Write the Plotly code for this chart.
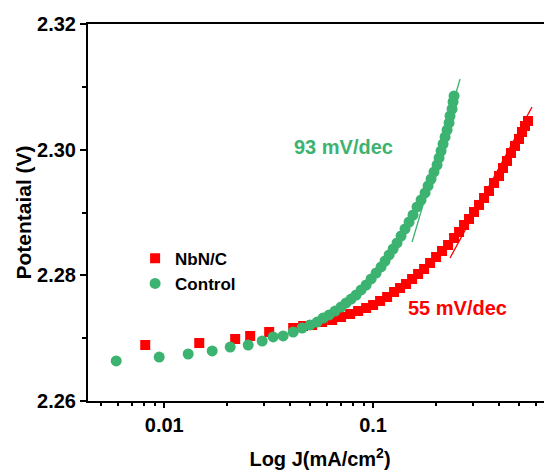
import plotly.graph_objects as go

# NbN/C (red squares)  J in mA/cm2, potential in V
nbn_j = [0.00811, 0.01471, 0.02186, 0.02579, 0.03180, 0.04143, 0.04625, 0.05105,
         0.05702, 0.06367, 0.07027, 0.07762, 0.08479, 0.09259, 0.1000, 0.1080,
         0.1167, 0.1260, 0.1346, 0.1438, 0.1537, 0.1642, 0.1754, 0.1874, 0.2002,
         0.2138, 0.2285, 0.2441, 0.2579, 0.2725, 0.2879, 0.3042, 0.3215, 0.3397,
         0.3589, 0.3793, 0.4008, 0.4188, 0.4376, 0.4573, 0.4779, 0.4995, 0.5162,
         0.5336, 0.5515]
nbn_v = [2.26891, 2.26923, 2.26987, 2.27035, 2.27098, 2.27162, 2.27194, 2.27210,
         2.27257, 2.27289, 2.27337, 2.27385, 2.27432, 2.27480, 2.27528, 2.27592,
         2.27655, 2.27735, 2.27798, 2.27862, 2.27942, 2.28021, 2.28101, 2.28196,
         2.28292, 2.28387, 2.28483, 2.28594, 2.28690, 2.28801, 2.28897, 2.29008,
         2.29120, 2.29231, 2.29342, 2.29470, 2.29581, 2.29708, 2.29820, 2.29947,
         2.30059, 2.30170, 2.30281, 2.30377, 2.30456]

# Control (green circles)
ctl_j = [0.00589, 0.00946, 0.01302, 0.01697, 0.02069, 0.02523, 0.02944, 0.03323,
         0.03710, 0.04143, 0.04574, 0.04995, 0.05397, 0.05765, 0.06158, 0.06578,
         0.07027, 0.07425, 0.07846, 0.08292, 0.08762, 0.09259, 0.09782, 0.1034,
         0.1092, 0.1141, 0.1193, 0.1247, 0.1302, 0.1361, 0.1422, 0.1487, 0.1553,
         0.1623, 0.1697, 0.1773, 0.1833, 0.1895, 0.1957, 0.2024, 0.2069, 0.2115,
         0.2163, 0.2211, 0.2260, 0.2310, 0.2335, 0.2388, 0.2414, 0.2441]
ctl_v = [2.26637, 2.26700, 2.26748, 2.26796, 2.26859, 2.26891, 2.26955, 2.27019,
         2.27035, 2.27098, 2.27162, 2.27210, 2.27257, 2.27321, 2.27369, 2.27432,
         2.27496, 2.27560, 2.27623, 2.27687, 2.27767, 2.27846, 2.27942, 2.28037,
         2.28133, 2.28228, 2.28324, 2.28419, 2.28515, 2.28626, 2.28738, 2.28849,
         2.28960, 2.29088, 2.29199, 2.29311, 2.29422, 2.29533, 2.29645, 2.29756,
         2.29868, 2.29979, 2.30090, 2.30202, 2.30313, 2.30425, 2.30536, 2.30647,
         2.30759, 2.30854]

# Tafel fit lines (end points)
fit_ctl_j = [0.1537, 0.2608]
fit_ctl_v = [2.28531, 2.31125]
fit_nbn_j = [0.2335, 0.5765]
fit_nbn_v = [2.28276, 2.30679]

RED = "#ff0000"
GREEN = "#3cb371"
FONT = "Liberation Sans, Arial, sans-serif"

fig = go.Figure()
fig.add_trace(go.Scatter(x=nbn_j, y=nbn_v, mode="markers", name="NbN/C",
                         marker=dict(symbol="square", size=10, color=RED),
                         legendrank=1))
fig.add_trace(go.Scatter(x=ctl_j, y=ctl_v, mode="markers", name="Control",
                         marker=dict(symbol="circle", size=11, color=GREEN),
                         legendrank=2))
fig.add_trace(go.Scatter(x=fit_ctl_j, y=fit_ctl_v, mode="lines", showlegend=False,
                         line=dict(color=GREEN, width=1.3)))
fig.add_trace(go.Scatter(x=fit_nbn_j, y=fit_nbn_v, mode="lines", showlegend=False,
                         line=dict(color=RED, width=1.3)))

fig.add_annotation(text="93 mV/dec", x=0.5496, y=0.6737, xref="paper", yref="paper",
                   xanchor="center", yanchor="middle", showarrow=False,
                   font=dict(family=FONT, size=20, color=GREEN, weight="bold"))
fig.add_annotation(text="55 mV/dec", x=0.797, y=0.2467, xref="paper", yref="paper",
                   xanchor="center", yanchor="middle", showarrow=False,
                   font=dict(family=FONT, size=20, color=RED, weight="bold"))

fig.update_xaxes(type="log", range=[-2.365, -0.1435], automargin=False,
                 tickvals=[0.01, 0.1], ticktext=["0.01", "0.1"],
                 ticks="outside", ticklen=5, tickwidth=2, tickcolor="black",
                 minor=dict(dtick="D1", ticks="outside", ticklen=3, tickwidth=1.5, tickcolor="black"),
                 showline=True, linewidth=2, linecolor="black", mirror=True,
                 showgrid=False, zeroline=False,
                 tickfont=dict(family=FONT, size=20, color="black", weight="bold"),
                 title=dict(text="Log J(mA/cm<sup>2</sup>)", standoff=17,
                            font=dict(family=FONT, size=20, color="black", weight="bold")))
fig.update_yaxes(range=[2.26, 2.32], dtick=0.02, tickformat=".2f", automargin=False,
                 ticks="outside", ticklen=6, tickwidth=2, tickcolor="black",
                 minor=dict(dtick=0.01, ticks="outside", ticklen=4, tickwidth=1.5, tickcolor="black"),
                 showline=True, linewidth=2, linecolor="black",
                 showgrid=False, zeroline=False,
                 tickfont=dict(family=FONT, size=20, color="black", weight="bold"),
                 title=dict(text="Potentaial (V)", standoff=0,
                            font=dict(family=FONT, size=21, color="black", weight="bold")))

# page body adds an 8px margin, so the figure is sized to fit inside the window
fig.update_layout(width=544, height=465, margin=dict(l=80, r=0, t=16, b=72),
                  plot_bgcolor="white", paper_bgcolor="white",
                  legend=dict(x=0.1015, y=0.425, xanchor="left", yanchor="top",
                              tracegroupgap=0, bgcolor="rgba(0,0,0,0)",
                              font=dict(family=FONT, size=17, color="black", weight="bold")))

fig.write_html("out.html")
